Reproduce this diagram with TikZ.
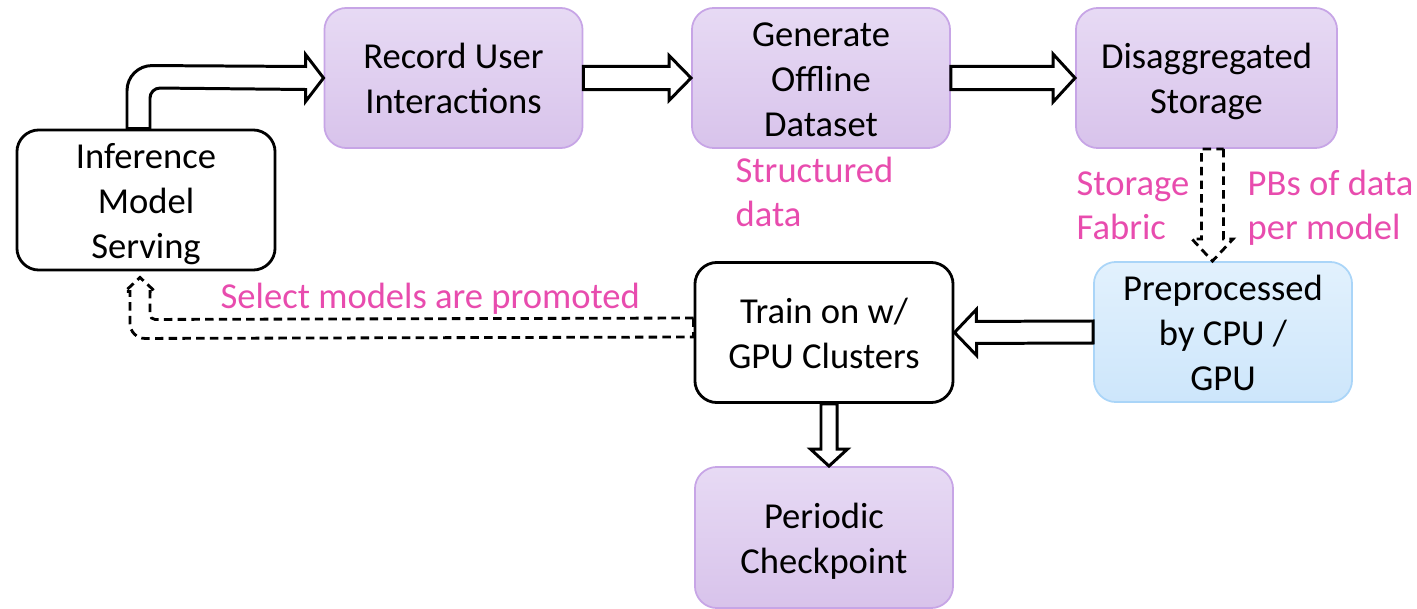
\documentclass[tikz,border=0pt]{standalone}
\usepackage{fontspec}
\setmainfont{Carlito}
\usetikzlibrary{calc,positioning}

\definecolor{lilacTop}{HTML}{E7DAF4}
\definecolor{lilacBot}{HTML}{D8C3EB}
\definecolor{lilacLine}{HTML}{C7A5E6}
\definecolor{skyTop}{HTML}{E2F1FD}
\definecolor{skyBot}{HTML}{CDE6FB}
\definecolor{skyLine}{HTML}{AAD5F8}
\definecolor{notePink}{HTML}{E84CAE}

\tikzset{
  box/.style={rounded corners=0.22cm, minimum width=2.58cm, minimum height=1.4cm,
    align=center, inner sep=0pt, font=\fontsize{10.4}{12.8}\selectfont, text depth=0pt},
  twoline/.style={text height=20.2pt},
  threeline/.style={text height=33.2pt},
  plainbox/.style={box, draw=black, line width=0.8pt, fill=white},
  lilacbox/.style={box, draw=lilacLine, line width=0.5pt, top color=lilacTop, bottom color=lilacBot},
  skybox/.style={box, draw=skyLine, line width=0.5pt, top color=skyTop, bottom color=skyBot},
  note/.style={text=notePink, align=left, inner sep=0pt, font=\fontsize{10.4}{12.3}\selectfont},
  blockline/.style={draw=black, line width=0.85pt, fill=white, line join=miter},
  dashline/.style={draw=black, line width=0.8pt, dash pattern=on 2.4pt off 1.5pt}
}

\newcommand{\blockarrow}[6][]{%
  \coordinate (ba-base) at ($#3!#6!#2$);
  \draw[blockline,#1] ($#2!#4!90:#3$) -- ($(ba-base)!#4!90:#3$) -- ($(ba-base)!#5!90:#3$) -- #3
    -- ($(ba-base)!#5!-90:#3$) -- ($(ba-base)!#4!-90:#3$) -- ($#2!#4!-90:#3$) -- cycle;}

\begin{document}
\begin{tikzpicture}[x=0.01cm, y=-0.01cm]
  \useasboundingbox (0,0) rectangle (1417,609);

  \node[plainbox, threeline] (inf) at (146,200) {Inference\\Model\\Serving};
  \node[lilacbox, twoline] (rec) at (453.5,78) {Record User\\Interactions};
  \node[lilacbox, threeline] (gen) at (821,78) {Generate\\Offline\\Dataset};
  \node[lilacbox, twoline, minimum width=2.61cm] (dis) at (1206.5,78) {Disaggregated\\Storage};
  \node[skybox, threeline] (pre) at (1223,332) {Preprocessed\\by CPU /\\GPU};
  \node[plainbox, twoline] (train) at (824,332.5) {Train on w/\\GPU Clusters};
  \node[lilacbox, twoline, minimum height=1.41cm] (chk) at (824,537.5) {Periodic\\Checkpoint};

  \node[note, anchor=base west] (struct) at (735,226) {Structured\\data};
  \node[note, anchor=base west] (fabric) at (1076,239) {Storage\\Fabric};
  \node[note, anchor=base west] (pbs) at (1247,239) {PBs of data\\per model};
  \node[note, anchor=base west] (promo) at (220,308) {Select models are promoted};

  \draw[blockline] ($(inf.north)+(-19,0)$) -- ++(0,-38) arc[start angle=180, end angle=270, radius=25]
    -- ($(rec.west)+(-18,-11.5)$) -- ++(0,-12) -- (rec.west) -- ++(-18,23.5) -- ++(0,-12)
    -- ($(inf.north)+(14,-40.5)$) arc[start angle=270, end angle=180, radius=10]
    -- ($(inf.north)+(4,0)$) -- cycle;

  \blockarrow{(rec.east)}{(gen.west)}{0.115cm}{0.225cm}{0.22cm}
  \blockarrow{(gen.east)}{(dis.west)}{0.115cm}{0.24cm}{0.22cm}
  \blockarrow{(pre.west)}{(train.east)}{0.11cm}{0.23cm}{0.22cm}

  \coordinate (trn-s) at ($(train.south)+(5,0)$);
  \coordinate (chk-n) at (trn-s |- chk.north);
  \blockarrow{(trn-s)}{(chk-n)}{0.08cm}{0.185cm}{0.17cm}

  \coordinate (dis-s) at ($(dis.south)+(6,0)$);
  \coordinate (pre-n) at (dis-s |- pre.north);
  \blockarrow[dashline, fill=none]{(dis-s)}{(pre-n)}{0.11cm}{0.205cm}{0.22cm}

  \coordinate (ret) at ($(inf.south)+(-6,6)$);
  \draw[dashline] ($(train.west)+(0,-14.5)$) -- ($(ret)+(15,42)$) arc[start angle=90, end angle=180, radius=5]
    -- ($(ret)+(10,14)$) -- ++(5,0) -- (ret) -- ++(-15,14) -- ++(5,0)
    -- ($(ret)+(-10,46)$) arc[start angle=180, end angle=90, radius=15]
    -- ($(train.west)+(0,4.5)$) -- cycle;
\end{tikzpicture}
\end{document}
